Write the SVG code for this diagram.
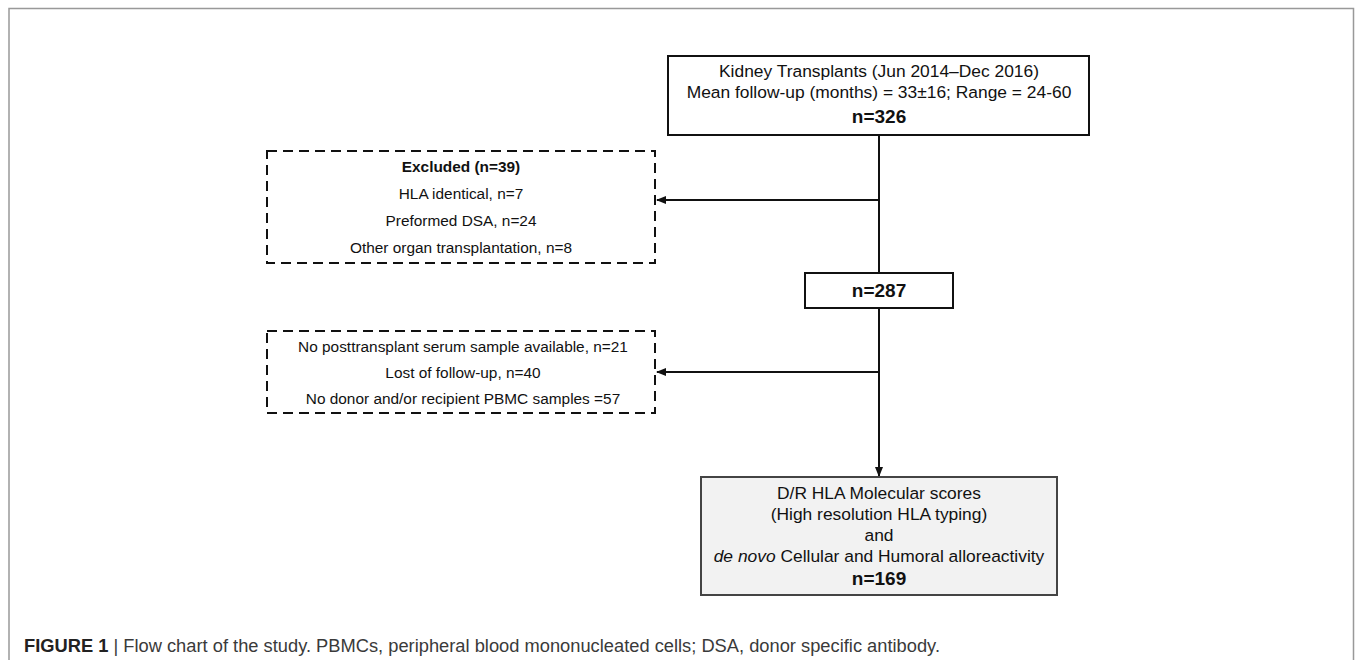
<svg xmlns="http://www.w3.org/2000/svg" width="1355" height="660" viewBox="0 0 1355 660">
<defs>
<style>
text{font-family:"Liberation Sans",Arial,sans-serif;fill:#111;text-anchor:middle}
.t{font-size:17.4px}
.s{font-size:15.4px}
.b{font-size:19px;font-weight:bold}
.bs{font-size:15.4px;font-weight:bold}
.solid{fill:#fff;stroke:#111;stroke-width:2}
.dash{fill:#fff;stroke:#111;stroke-width:2;stroke-dasharray:10,6}
.grey{fill:#f2f2f2;stroke:#444;stroke-width:2}
.line{stroke:#111;stroke-width:2;fill:none}
.cap{font-size:17.5px;fill:#3a3a3a;text-anchor:start}
</style>
<marker id="ah" markerWidth="10" markerHeight="10" refX="9" refY="5" orient="auto" markerUnits="userSpaceOnUse">
<path d="M0,1 L10,5 L0,9 Z" fill="#111"/>
</marker>
</defs>
<rect x="0" y="0" width="1355" height="660" fill="#fff"/>
<path d="M9,660 V8.5 H1353.5 V660" fill="none" stroke="#999" stroke-width="1.5"/>
<g id="connectors">
<line class="line" x1="879" y1="135" x2="879" y2="273"/>
<line class="line" x1="879" y1="200" x2="657" y2="200" marker-end="url(#ah)"/>
<line class="line" x1="879" y1="308" x2="879" y2="476" marker-end="url(#ah)"/>
<line class="line" x1="879" y1="372" x2="657" y2="372" marker-end="url(#ah)"/>
</g>
<g id="node-transplants">
<rect class="solid" x="668" y="56" width="421" height="79"/>
<text class="t" x="879" y="77">Kidney Transplants (Jun 2014–Dec 2016)</text>
<text class="t" x="879" y="98">Mean follow-up (months) = 33±16; Range = 24-60</text>
<text class="b" x="879" y="123">n=326</text>
</g>
<g id="node-excluded">
<rect class="dash" x="267" y="151" width="388" height="112"/>
<text class="bs" x="461" y="172">Excluded (n=39)</text>
<text class="s" x="461" y="199">HLA identical, n=7</text>
<text class="s" x="461" y="226">Preformed DSA, n=24</text>
<text class="s" x="461" y="253">Other organ transplantation, n=8</text>
</g>
<g id="node-287">
<rect class="solid" x="805" y="273" width="148" height="35"/>
<text class="b" x="879" y="297">n=287</text>
</g>
<g id="node-excluded2">
<rect class="dash" x="267" y="331" width="388" height="82"/>
<text class="s" x="463" y="352">No posttransplant serum sample available, n=21</text>
<text class="s" x="463" y="378">Lost of follow-up, n=40</text>
<text class="s" x="463" y="404">No donor and/or recipient PBMC samples =57</text>
</g>
<g id="node-final">
<rect class="grey" x="701" y="477" width="356" height="118"/>
<text class="t" x="879" y="499">D/R HLA Molecular scores</text>
<text class="t" x="879" y="520">(High resolution HLA typing)</text>
<text class="t" x="879" y="541">and</text>
<text class="t" x="879" y="562"><tspan font-style="italic">de novo</tspan> Cellular and Humoral alloreactivity</text>
<text class="b" x="879" y="585">n=169</text>
</g>
<text class="cap" x="24" y="652" textLength="916" lengthAdjust="spacingAndGlyphs"><tspan font-weight="bold" fill="#222">FIGURE 1</tspan> | Flow chart of the study. PBMCs, peripheral blood mononucleated cells; DSA, donor specific antibody.</text>
</svg>
